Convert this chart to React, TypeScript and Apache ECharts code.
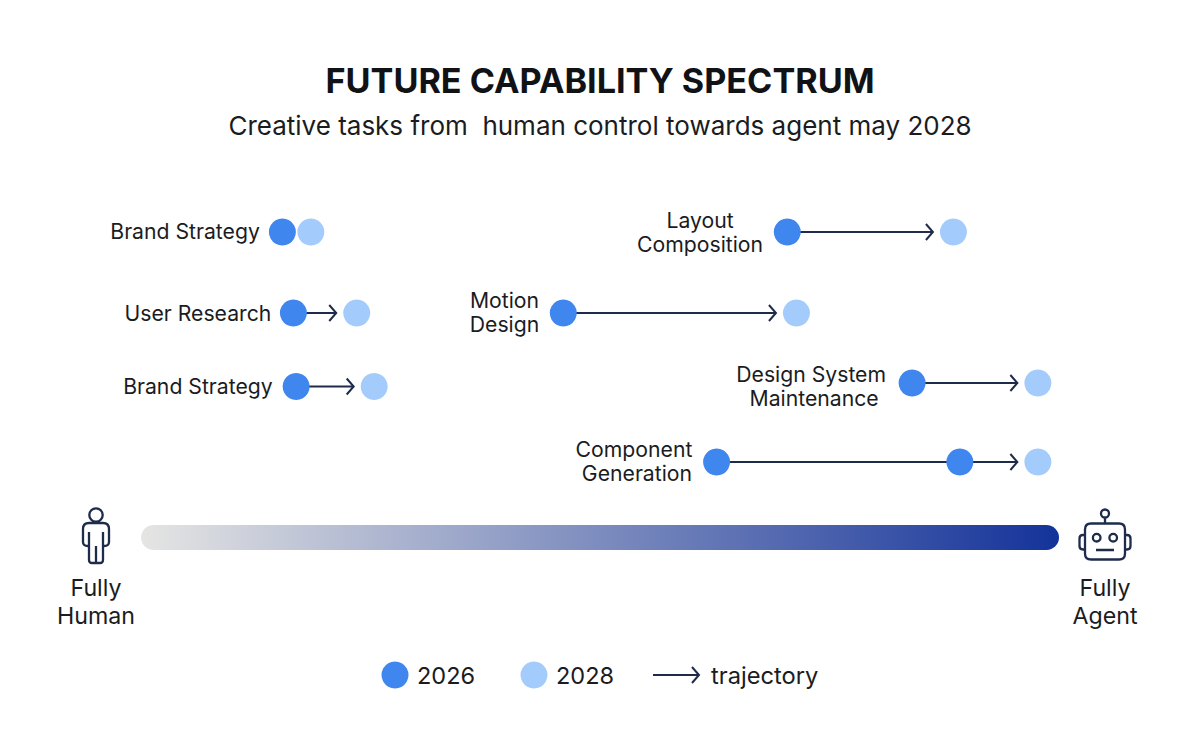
import React, { useEffect, useRef } from "react";
import * as echarts from "echarts";

const titleText = "FUTURE CAPABILITY SPECTRUM";
const subtitleText = "Creative tasks from  human control towards agent may 2028";

// Position along the spectrum (0 = fully human, 100 = fully agent) and row height
const tasks = ["Brand Strategy", "User Research", "Brand Strategy", "Layout\nComposition", "Motion\nDesign", "Design System\n Maintenance", "Component\n Generation"];
const rows = [32, 113, 186.5, 32, 113, 183, 262];
const values2026 = [15.4, 16.6, 16.9, 70.4, 46.0, 84.0, 62.7];
const extra2026 = [[89.2, 262]];
const values2028 = [18.5, 23.5, 25.4, 88.5, 71.4, 97.7, 97.7];
const hasTrajectory = [false, true, true, true, true, true, true];
const labelX = [4.8, 6.2, 6.2, 60.9, 39.6, 73.0, 53.7];
const labelRows = [31, 113, 186, 32, 112, 186, 261];
const spectrum = [[0, 100, 337.5]];

const FONT = "Inter";
const INK = "#1a1c22";
const NAVY = "#1e2b4b";
const C2026 = "#3f86ee";
const C2028 = "#a3cbfb";
const BAR_START = "#e5e5e3";
const BAR_END = "#14339a";

const PERSON =
  "M89 523H103Q109 523 109 529V542Q109 546 104 546H103V560Q103 563 100 563H92Q89 563 89 560V546H88Q83 546 83 542V529Q83 523 89 523ZM89 532V546M103 532V546M96 546V563M102.7 515A6.7 6.7 0 1 1 89.3 515A6.7 6.7 0 1 1 102.7 515Z";
const ROBOT =
  "M1091 523.5H1119Q1125 523.5 1125 529.5V553.5Q1125 559.5 1119 559.5H1091Q1085 559.5 1085 553.5V529.5Q1085 523.5 1091 523.5ZM1105 523.5V517.5M1109 513.5A4 4 0 1 1 1101 513.5A4 4 0 1 1 1109 513.5ZM1100.5 537.7A3.8 3.8 0 1 1 1092.9 537.7A3.8 3.8 0 1 1 1100.5 537.7ZM1117 537.7A3.8 3.8 0 1 1 1109.4 537.7A3.8 3.8 0 1 1 1117 537.7ZM1096 550H1114M1085 535H1083Q1079.5 535 1079.5 538.5V546Q1079.5 549.5 1083 549.5H1085M1125 535H1127Q1130.5 535 1130.5 538.5V546Q1130.5 549.5 1127 549.5H1125";

echarts.graphic.registerShape("personIcon", echarts.graphic.extendPath(PERSON, {}));
echarts.graphic.registerShape("robotIcon", echarts.graphic.extendPath(ROBOT, {}));

const chevron = (x: number, y: number) => ({
  type: "polyline",
  shape: { points: [[x - 7, y - 8], [x, y], [x - 7, y + 8]] },
  style: { fill: "none", stroke: NAVY, lineWidth: 2 },
});

export default function App() {
  const ref = useRef<HTMLDivElement>(null);
  useEffect(() => {
    document.body.style.margin = "0";
    const chart = echarts.init(ref.current!, null, { renderer: "svg" });
    chart.setOption({
      animation: false,
      backgroundColor: "#ffffff",
      title: {
        text: titleText,
        subtext: subtitleText,
        left: "center",
        top: 54,
        itemGap: 7,
        textStyle: { fontFamily: FONT, fontWeight: 700, fontSize: 34.2, color: "#111216", lineHeight: 42 },
        subtextStyle: { fontFamily: FONT, fontWeight: 400, fontSize: 26, color: INK, lineHeight: 34 },
      },
      grid: { left: 141, width: 918, top: 200, height: 400 },
      xAxis: { type: "value", min: 0, max: 100, show: false },
      yAxis: { type: "value", min: 0, max: 400, inverse: true, show: false },
      series: [
        {
          type: "custom",
          name: "spectrum",
          silent: true,
          clip: false,
          z: 1,
          data: spectrum,
          renderItem: (_: any, api: any) => {
            const a = api.coord([api.value(0), api.value(2)]);
            const b = api.coord([api.value(1), api.value(2)]);
            return {
              type: "rect",
              shape: { x: a[0], y: a[1] - 12.5, width: b[0] - a[0], height: 25, r: 12.5 },
              style: {
                fill: new echarts.graphic.LinearGradient(0, 0, 1, 0, [
                  { offset: 0, color: BAR_START },
                  { offset: 1, color: BAR_END },
                ]),
              },
            };
          },
        },
        {
          type: "custom",
          name: "trajectory",
          silent: true,
          z: 2,
          data: tasks
            .map((_, i) => [values2026[i], values2028[i], rows[i]])
            .filter((_, i) => hasTrajectory[i]),
          renderItem: (_: any, api: any) => {
            const a = api.coord([api.value(0), api.value(2)]);
            const b = api.coord([api.value(1), api.value(2)]);
            const tip = b[0] - 20.5;
            return {
              type: "group",
              children: [
                {
                  type: "line",
                  shape: { x1: a[0], y1: a[1], x2: tip, y2: a[1] },
                  style: { stroke: NAVY, lineWidth: 1.8 },
                },
                chevron(tip, a[1]),
              ],
            };
          },
        },
        {
          type: "scatter",
          name: "2028",
          symbolSize: 27,
          z: 3,
          itemStyle: { color: C2028, opacity: 1 },
          data: values2028.map((v, i) => [v, rows[i]]),
        },
        {
          type: "scatter",
          name: "2026",
          symbolSize: 27,
          z: 4,
          itemStyle: { color: C2026, opacity: 1 },
          data: [...values2026.map((v, i) => [v, rows[i]]), ...extra2026],
        },
        {
          type: "custom",
          name: "labels",
          silent: true,
          clip: false,
          z: 5,
          data: tasks.map((t, i) => [labelX[i], labelRows[i], t]),
          renderItem: (params: any, api: any) => {
            const p = api.coord([api.value(0), api.value(1)]);
            return {
              type: "text",
              x: p[0],
              y: p[1],
              style: {
                text: tasks[params.dataIndex],
                x: 0,
                y: 0,
                align: "center",
                verticalAlign: "middle",
                fontFamily: FONT,
                fontSize: 21.2,
                lineHeight: 23.5,
                fill: INK,
              },
            };
          },
        },
      ],
      graphic: [
        { type: "personIcon", x: 0, y: 0, style: { fill: "none", stroke: NAVY, lineWidth: 2.3 } },
        { type: "robotIcon", x: 0, y: 0, style: { fill: "none", stroke: NAVY, lineWidth: 2.3 } },
        {
          type: "text", x: 96, y: 602,
          style: { text: "Fully\nHuman", align: "center", verticalAlign: "middle", fontFamily: FONT, fontSize: 23.2, lineHeight: 28, fill: INK },
        },
        {
          type: "text", x: 1105, y: 602,
          style: { text: "Fully\nAgent", align: "center", verticalAlign: "middle", fontFamily: FONT, fontSize: 23.2, lineHeight: 28, fill: INK },
        },
        { type: "circle", shape: { cx: 395, cy: 675, r: 13.5 }, style: { fill: C2026 } },
        { type: "text", x: 417, y: 675, style: { text: "2026", verticalAlign: "middle", fontFamily: FONT, fontSize: 23.5, fill: INK } },
        { type: "circle", shape: { cx: 534, cy: 675, r: 13.5 }, style: { fill: C2028 } },
        { type: "text", x: 556, y: 675, style: { text: "2028", verticalAlign: "middle", fontFamily: FONT, fontSize: 23.5, fill: INK } },
        { type: "line", shape: { x1: 653, y1: 675, x2: 699, y2: 675 }, style: { stroke: NAVY, lineWidth: 1.8 } },
        { type: "polyline", shape: { points: [[692, 667], [699, 675], [692, 683]] }, style: { fill: "none", stroke: NAVY, lineWidth: 2 } },
        { type: "text", x: 711, y: 675, style: { text: "trajectory", verticalAlign: "middle", fontFamily: FONT, fontSize: 23.7, fill: INK } },
      ],
    });
    return () => chart.dispose();
  }, []);
  return <div ref={ref} style={{ width: 1200, height: 747 }} />;
}
